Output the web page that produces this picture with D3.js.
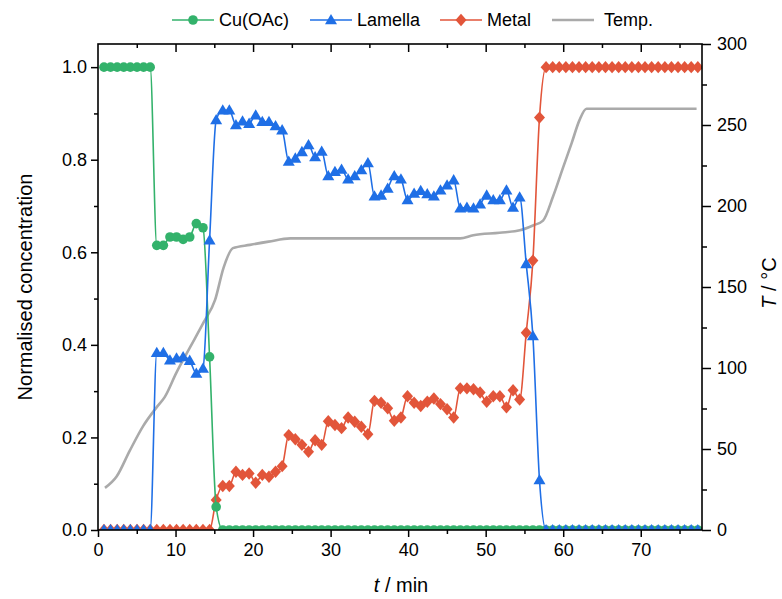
<!DOCTYPE html>
<html>
<head>
<meta charset="utf-8">
<script src="https://cdn.jsdelivr.net/npm/d3@7"></script>
<style>
  html, body { margin: 0; padding: 0; background: #fff; }
  svg { display: block; font-family: "Liberation Sans", Arial, sans-serif; }
</style>
</head>
<body>
<svg id="chart" width="782" height="599"></svg>
<script>
// ---------------- data ----------------
const seriesNames = ["Cu(OAc)", "Lamella", "Metal", "Temp."];

const times = [
  0.77, 1.62, 2.47, 3.32, 4.17, 5.03, 5.88, 6.73, 7.58, 8.43,
  9.28, 10.13, 10.98, 11.83, 12.68, 13.54, 14.39, 15.24, 16.09, 16.94,
  17.79, 18.64, 19.49, 20.34, 21.19, 22.05, 22.90, 23.75, 24.60, 25.45,
  26.30, 27.15, 28.00, 28.85, 29.70, 30.56, 31.41, 32.26, 33.11, 33.96,
  34.81, 35.66, 36.51, 37.36, 38.21, 39.07, 39.92, 40.77, 41.62, 42.47,
  43.32, 44.17, 45.02, 45.87, 46.72, 47.58, 48.43, 49.28, 50.13, 50.98,
  51.83, 52.68, 53.53, 54.38, 55.23, 56.09, 56.94, 57.79, 58.64, 59.49,
  60.34, 61.19, 62.04, 62.89, 63.74, 64.60, 65.45, 66.30, 67.15, 68.00,
  68.85, 69.70, 70.55, 71.40, 72.25, 73.11, 73.96, 74.81, 75.66, 76.51,
  77.36
];

const cuOAc = [
  1, 1, 1, 1, 1, 1, 1, 1, 0.615, 0.615,
  0.633, 0.633, 0.628, 0.633, 0.662, 0.653, 0.374, 0.05, 0, 0,
  0, 0, 0, 0, 0, 0, 0, 0, 0, 0,
  0, 0, 0, 0, 0, 0, 0, 0, 0, 0,
  0, 0, 0, 0, 0, 0, 0, 0, 0, 0,
  0, 0, 0, 0, 0, 0, 0, 0, 0, 0,
  0, 0, 0, 0, 0, 0, 0, 0, 0, 0,
  0, 0, 0, 0, 0, 0, 0, 0, 0, 0,
  0, 0, 0, 0, 0, 0, 0, 0, 0, 0,
  0
];

const lamella = [
  0, 0, 0, 0, 0, 0, 0, 0, 0.383, 0.383,
  0.367, 0.371, 0.374, 0.366, 0.338, 0.349, 0.626, 0.886, 0.907, 0.907,
  0.875, 0.883, 0.878, 0.896, 0.882, 0.882, 0.873, 0.864, 0.796, 0.803,
  0.817, 0.832, 0.806, 0.818, 0.765, 0.774, 0.779, 0.758, 0.765, 0.778,
  0.793, 0.721, 0.723, 0.738, 0.765, 0.758, 0.713, 0.727, 0.733, 0.726,
  0.721, 0.734, 0.745, 0.756, 0.695, 0.697, 0.695, 0.704, 0.723, 0.713,
  0.713, 0.734, 0.697, 0.719, 0.575, 0.419, 0.108, 0, 0, 0,
  0, 0, 0, 0, 0, 0, 0, 0, 0, 0,
  0, 0, 0, 0, 0, 0, 0, 0, 0, 0,
  0
];

const metal = [
  0, 0, 0, 0, 0, 0, 0, 0, 0, 0,
  0, 0, 0, 0, 0, 0, 0, 0.065, 0.095, 0.095,
  0.126, 0.119, 0.122, 0.102, 0.119, 0.115, 0.126, 0.138, 0.205, 0.196,
  0.184, 0.169, 0.194, 0.184, 0.235, 0.227, 0.220, 0.243, 0.234, 0.223,
  0.207, 0.279, 0.275, 0.263, 0.236, 0.243, 0.289, 0.275, 0.268, 0.277,
  0.284, 0.272, 0.261, 0.243, 0.306, 0.306, 0.304, 0.297, 0.277, 0.289,
  0.289, 0.265, 0.302, 0.282, 0.426, 0.582, 0.891, 1, 1, 1,
  1, 1, 1, 1, 1, 1, 1, 1, 1, 1,
  1, 1, 1, 1, 1, 1, 1, 1, 1, 1,
  1
];

const tempTime = [0.9, 2.4, 4.1, 5.8, 7.6, 8.6, 10.1, 11.9, 13.6, 15.1, 16.2, 17.4, 19.6, 22.0, 24.8, 30.0, 40.0, 46.7, 48.4, 51.8, 54.4, 56.1, 57.4, 58.7, 60.0, 61.1, 62.1, 63.0, 77.2];
const tempValues = [26, 33, 49, 64, 76, 82, 97, 113, 128, 142, 162, 174, 176, 178, 180, 180, 180, 180, 182, 183.5, 185, 188, 191, 206, 224, 239, 253, 260, 260];

const xTicks = [0, 10, 20, 30, 40, 50, 60, 70];
const xMinorTicks = [5, 15, 25, 35, 45, 55, 65, 75];
const yLeftTicks = [0, 0.2, 0.4, 0.6, 0.8, 1.0];
const yLeftMinorTicks = [0.1, 0.3, 0.5, 0.7, 0.9];
const yRightTicks = [0, 50, 100, 150, 200, 250, 300];
const yRightMinorTicks = [25, 75, 125, 175, 225, 275];

// ---------------- layout ----------------
const colors = { cu: "#33b26b", lam: "#1f6fe6", met: "#e2553a", temp: "#aaaaaa" };
const L = 98, R = 702, T = 44, B = 530;
const FONT = 18;

const svg = d3.select("#chart");
const x = d3.scaleLinear().domain([0, 77.9]).range([L, R]);
const yL = d3.scaleLinear().domain([0, 1.05]).range([B, T]);
const yR = d3.scaleLinear().domain([0, 300]).range([B, T]);

// marker shapes
function markerPath(kind) {
  if (kind === "tri") return "M0,-6L6,4.3L-6,4.3Z";
  if (kind === "dia") return "M0,-6.2L5.5,0L0,6.2L-5.5,0Z";
  return null;
}
const CIRCLE_R = 4.8;

svg.append("defs").append("clipPath").attr("id", "plotclip")
  .append("rect").attr("x", L).attr("y", T).attr("width", R - L).attr("height", B - T);

const plot = svg.append("g").attr("clip-path", "url(#plotclip)");

// temperature line (behind)
const tempData = tempTime.map((t, i) => [t, tempValues[i]]);
plot.append("path")
  .datum(tempData)
  .attr("fill", "none")
  .attr("stroke", colors.temp)
  .attr("stroke-width", 2.6)
  .attr("d", d3.line().x(d => x(d[0])).y(d => yR(d[1])).curve(d3.curveMonotoneX));

function drawSeries(values, color, kind) {
  const data = times.map((t, i) => [t, values[i]]);
  const g = plot.append("g");
  g.append("path")
    .datum(data)
    .attr("fill", "none")
    .attr("stroke", color)
    .attr("stroke-width", 1.6)
    .attr("d", d3.line().x(d => x(d[0])).y(d => yL(d[1])).curve(d3.curveMonotoneX));
  if (kind === "circle") {
    g.selectAll("circle").data(data).join("circle")
      .attr("cx", d => x(d[0])).attr("cy", d => yL(d[1]))
      .attr("r", CIRCLE_R).attr("fill", color);
  } else {
    g.selectAll("path.m").data(data).join("path")
      .attr("class", "m")
      .attr("transform", d => `translate(${x(d[0])},${yL(d[1])})`)
      .attr("d", markerPath(kind)).attr("fill", color);
  }
}

drawSeries(metal, colors.met, "dia");
drawSeries(cuOAc, colors.cu, "circle");
drawSeries(lamella, colors.lam, "tri");

// ---------------- axes ----------------
function styleAxis(g) {
  g.select(".domain").remove();
  g.selectAll(".tick line").attr("stroke", "#000").attr("stroke-width", 1.5);
  g.selectAll(".tick text").attr("font-size", FONT).attr("fill", "#000")
    .attr("font-family", '"Liberation Sans", Arial, sans-serif');
}

svg.append("g").attr("transform", `translate(0,${B})`)
  .call(d3.axisBottom(x).tickValues(xTicks).tickFormat(d3.format("d")).tickSize(7).tickPadding(6))
  .call(styleAxis);
svg.append("g").attr("transform", `translate(0,${B})`)
  .call(d3.axisBottom(x).tickValues(xMinorTicks).tickFormat("").tickSize(4))
  .call(styleAxis);

svg.append("g").attr("transform", `translate(0,${T})`)
  .call(d3.axisTop(x).tickValues(xTicks.filter(d => d > 0)).tickFormat("").tickSize(-8))
  .call(styleAxis);
svg.append("g").attr("transform", `translate(0,${T})`)
  .call(d3.axisTop(x).tickValues(xMinorTicks).tickFormat("").tickSize(-4))
  .call(styleAxis);

svg.append("g").attr("transform", `translate(${L},0)`)
  .call(d3.axisLeft(yL).tickValues(yLeftTicks).tickFormat(d3.format(".1f")).tickSize(7).tickPadding(4))
  .call(styleAxis);
svg.append("g").attr("transform", `translate(${L},0)`)
  .call(d3.axisLeft(yL).tickValues(yLeftMinorTicks).tickFormat("").tickSize(4))
  .call(styleAxis);

svg.append("g").attr("transform", `translate(${R},0)`)
  .call(d3.axisRight(yR).tickValues(yRightTicks).tickFormat(d3.format("d")).tickSize(9).tickPadding(6))
  .call(styleAxis);
svg.append("g").attr("transform", `translate(${R},0)`)
  .call(d3.axisRight(yR).tickValues(yRightMinorTicks).tickFormat("").tickSize(5))
  .call(styleAxis);

// frame
svg.append("rect").attr("x", L).attr("y", T).attr("width", R - L).attr("height", B - T)
  .attr("fill", "none").attr("stroke", "#000").attr("stroke-width", 1.6);

// ---------------- titles ----------------
svg.append("text")
  .attr("transform", `translate(25,${(T + B) / 2}) rotate(-90)`)
  .attr("text-anchor", "middle").attr("dominant-baseline", "central")
  .attr("font-size", 20).text("Normalised concentration");

const rt = svg.append("text")
  .attr("transform", `translate(769,283) rotate(-90)`)
  .attr("text-anchor", "middle").attr("dominant-baseline", "central")
  .attr("font-size", 20);
rt.append("tspan").attr("font-style", "italic").text("T");
rt.append("tspan").text(" / °C");

const xt = svg.append("text")
  .attr("x", 401).attr("y", 585)
  .attr("text-anchor", "middle").attr("dominant-baseline", "central")
  .attr("font-size", 20);
xt.append("tspan").attr("font-style", "italic").text("t");
xt.append("tspan").text(" / min");

// ---------------- legend ----------------
const legendItems = [
  { name: seriesNames[0], color: colors.cu, kind: "circle", x0: 172 },
  { name: seriesNames[1], color: colors.lam, kind: "tri", x0: 310 },
  { name: seriesNames[2], color: colors.met, kind: "dia", x0: 440 },
  { name: seriesNames[3], color: colors.temp, kind: "none", x0: 552 }
];
const ly = 20;
legendItems.forEach(it => {
  const g = svg.append("g");
  g.append("line").attr("x1", it.x0).attr("x2", it.x0 + 42).attr("y1", ly).attr("y2", ly)
    .attr("stroke", it.color).attr("stroke-width", it.kind === "none" ? 2.6 : 1.6);
  const cx = it.x0 + 21;
  if (it.kind === "circle") {
    g.append("circle").attr("cx", cx).attr("cy", ly).attr("r", CIRCLE_R).attr("fill", it.color);
  } else if (it.kind !== "none") {
    g.append("path").attr("transform", `translate(${cx},${ly})`).attr("d", markerPath(it.kind)).attr("fill", it.color);
  }
  g.append("text").attr("x", it.x0 + (it.kind === "none" ? 52 : 47)).attr("y", ly)
    .attr("dominant-baseline", "central").attr("font-size", FONT).text(it.name);
});
</script>
</body>
</html>
